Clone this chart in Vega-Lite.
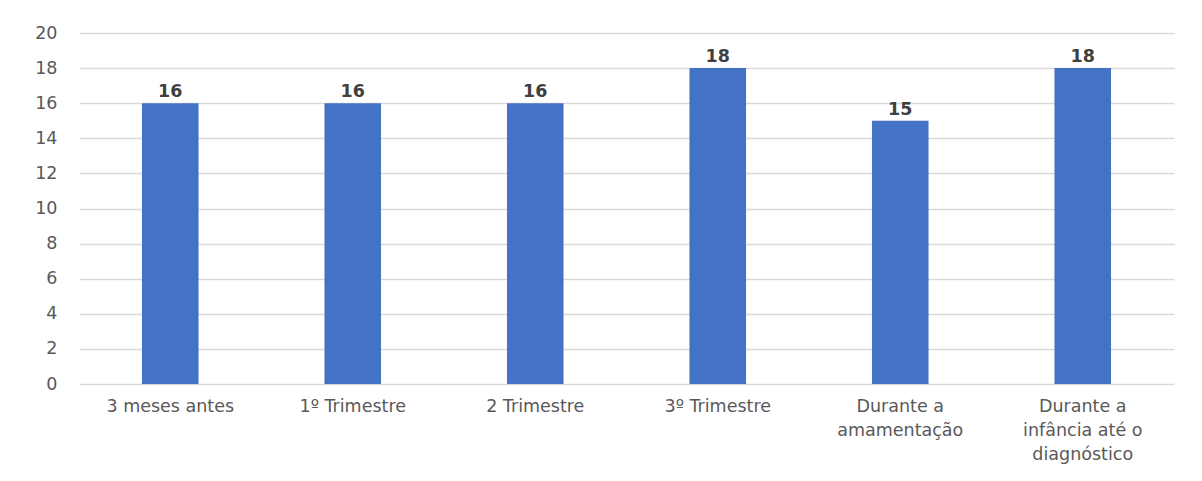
{
  "$schema": "https://vega.github.io/schema/vega-lite/v6.json",
  "autosize": "none",
  "width": 1095,
  "height": 351,
  "padding": {"left": 79, "top": 33, "right": 28, "bottom": 97},
  "background": "white",
  "config": {"view": {"stroke": null}, "font": "DejaVu Sans"},
  "data": {"values": [
    {"cat": "3 meses antes", "v": 16},
    {"cat": "1º Trimestre", "v": 16},
    {"cat": "2 Trimestre", "v": 16},
    {"cat": "3º Trimestre", "v": 18},
    {"cat": "Durante a amamentação", "v": 15},
    {"cat": "Durante a infância até o diagnóstico", "v": 18}
  ]},
  "encoding": {
    "x": {"field": "cat", "type": "nominal", "sort": null,
      "scale": {"paddingInner": 0.69, "paddingOuter": 0.345},
      "axis": {"title": null, "labelAngle": 0, "domain": false, "ticks": false,
        "labelFontSize": 17.5, "labelColor": "#595959", "labelPadding": 13, "labelBaseline": "top", "labelLineHeight": 24,
        "labelExpr": "datum.value == 'Durante a amamentação' ? ['Durante a', 'amamentação'] : datum.value == 'Durante a infância até o diagnóstico' ? ['Durante a', 'infância até o', 'diagnóstico'] : datum.value"}},
    "y": {"field": "v", "type": "quantitative",
      "scale": {"domain": [0, 20], "nice": false},
      "axis": {"title": null, "values": [0,2,4,6,8,10,12,14,16,18,20], "labelOverlap": false, "domain": false, "ticks": false,
        "labelFontSize": 17.5, "labelColor": "#595959", "labelPadding": 22, "gridColor": "#d9d9d9", "gridWidth": 1.5}}
  },
  "layer": [
    {"mark": {"type": "bar", "color": "#4472C4"}},
    {"mark": {"type": "text", "baseline": "bottom", "dy": -2, "fontWeight": "bold", "fontSize": 17.5, "color": "#404040"},
     "encoding": {"text": {"field": "v", "type": "quantitative"}}}
  ]
}
